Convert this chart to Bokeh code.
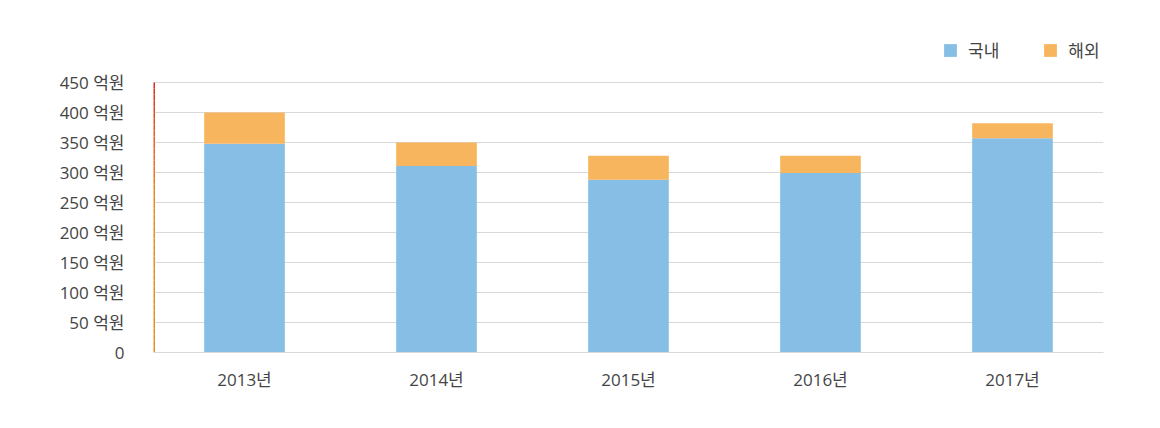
from bokeh.plotting import figure
from bokeh.models import (ColumnDataSource, FactorRange, Range1d, FixedTicker,
                          CustomJSTickFormatter, Legend, LegendItem)
from bokeh.embed import file_html
from bokeh.resources import INLINE

years = ["2013년", "2014년", "2015년", "2016년", "2017년"]
domestic = [348, 311, 288, 299, 357]
overseas = [52, 39, 40, 29, 25]
series = ["국내", "해외"]
colors = ["#86BEE6", "#F7B55E"]
y_ticks = [0, 50, 100, 150, 200, 250, 300, 350, 400, 450]

FONT = "Open Sans, Noto Sans CJK KR"
PAD = 0.026  # negative range padding per side (categories)

source = ColumnDataSource(data={"year": years, "국내": domestic, "해외": overseas})

# frame extends above the 450 line so the legend can sit inside it
p = figure(x_range=FactorRange(*years, range_padding=-PAD, range_padding_units="absolute"),
           y_range=Range1d(0, 533.33),
           width=1150, height=420, output_backend="svg", toolbar_location=None,
           min_border_left=153, min_border_right=47, min_border_top=32,
           min_border_bottom=68)
p.outline_line_color = None
p.background_fill_color = "white"

renderers = p.vbar_stack(series, x="year", width=0.42, source=source,
                         color=colors, line_color=None)

# gradient left axis line (0 .. 450): red at top, orange below,
# drawn at the frame's left edge (synthetic x = PAD)
n = 45
top = (222, 32, 28)
bot = (240, 138, 30)
ys0, ys1, cols = [], [], []
for i in range(n):
    y0 = y_ticks[-1] * i / n
    y1 = y_ticks[-1] * (i + 1) / n
    s = 1 - (i + 0.5) / n          # 0 at top, 1 at bottom
    f = min(1.0, s * 2.2) ** 0.7
    c = tuple(int(round(top[k] + (bot[k] - top[k]) * f)) for k in range(3))
    ys0.append(y0)
    ys1.append(y1)
    cols.append("#%02x%02x%02x" % c)
p.segment(x0=[PAD] * n, x1=[PAD] * n, y0=ys0, y1=ys1,
          line_color=cols, line_width=3)

p.yaxis.ticker = FixedTicker(ticks=y_ticks)
p.yaxis.formatter = CustomJSTickFormatter(code="return tick == 0 ? '0' : tick + ' 억원';")
p.yaxis.axis_line_color = None
p.yaxis.major_tick_line_color = None
p.yaxis.minor_tick_line_color = None
p.yaxis.major_label_standoff = 23
p.yaxis.major_label_text_font = FONT
p.yaxis.major_label_text_font_size = "17px"
p.yaxis.major_label_text_color = "#444444"

p.xaxis.axis_line_color = "#d9d9d9"
p.xaxis.major_tick_line_color = None
p.xaxis.minor_tick_line_color = None
p.xaxis.major_label_standoff = 9
p.xaxis.major_label_text_font = FONT
p.xaxis.major_label_text_font_size = "17px"
p.xaxis.major_label_text_color = "#444444"

p.xgrid.grid_line_color = None
p.ygrid.grid_line_color = "#d9d9d9"
p.ygrid.ticker = FixedTicker(ticks=y_ticks)

legend = Legend(items=[LegendItem(label=s, renderers=[r]) for s, r in zip(series, renderers)],
                orientation="horizontal", location=(789, 290),
                padding=0, margin=0, spacing=43, label_standoff=10,
                glyph_width=16, glyph_height=16, label_height=20,
                label_text_font=FONT, label_text_font_size="17px",
                label_text_color="#444444", border_line_color=None,
                background_fill_alpha=0)
p.add_layout(legend, "center")

open("out.html", "w").write(file_html(p, INLINE))
